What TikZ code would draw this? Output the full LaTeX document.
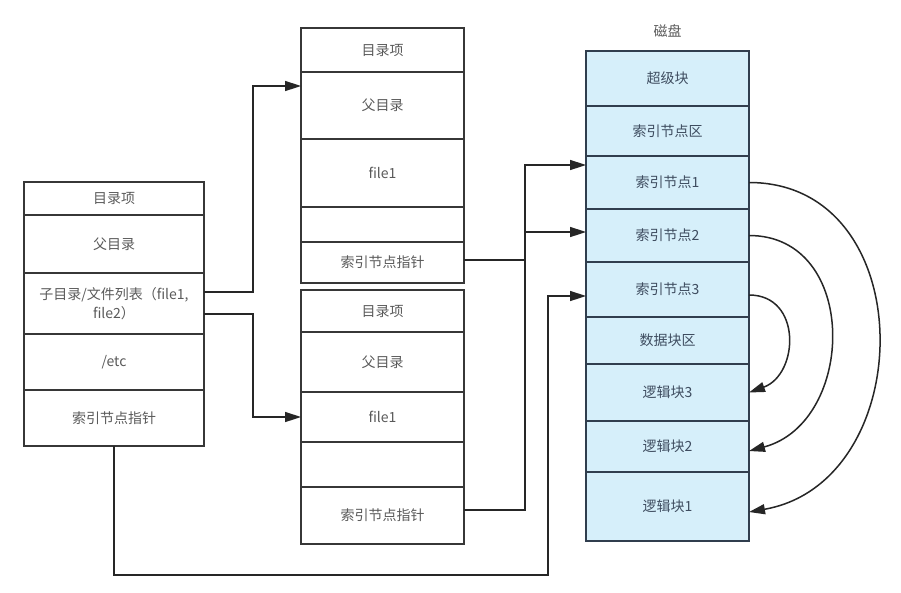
\documentclass[tikz,border=0pt]{standalone}
\usepackage{fontspec}
\setmainfont{Noto Sans CJK SC}
\usetikzlibrary{calc}
\usetikzlibrary{arrows.meta}
\definecolor{diskfill}{RGB}{214,239,250}
\definecolor{diskline}{RGB}{48,62,78}
\definecolor{boxline}{RGB}{55,55,55}
\definecolor{boxtext}{RGB}{90,90,90}
\definecolor{disktext}{RGB}{62,76,95}
\def\LeftX{114}
\def\MidX{382.5}
\def\DiskX{667.5}
\def\LeftW{180pt}
\def\MidW{163pt}
\def\DiskW{163pt}
\def\BusA{253}
\def\BusB{525}
\def\BusC{548}
\def\Floor{575}

\begin{document}
\begin{tikzpicture}[x=1pt,y=-1pt,
  cell/.style={draw=boxline, line width=1.5pt, text=boxtext, align=center,
    inner sep=0pt, outer sep=0pt, anchor=north,
    font=\fontsize{14}{19}\selectfont},
  dcell/.style={cell, draw=diskline, fill=diskfill, text=disktext, minimum width=\DiskW},
  arr/.style={draw=black!85, line width=1.5pt, -{Triangle[length=16pt,width=10pt]}}]
  \path[use as bounding box, fill=white] (0,0) rectangle (901,592);
  % directory entry
  \node[cell, minimum width=\LeftW, minimum height=33pt] (l1) at (\LeftX,182) {目录项};
  \node[cell, minimum width=\LeftW, minimum height=58pt] (l2) at (l1.south) {父目录};
  \node[cell, minimum width=\LeftW, minimum height=61pt] (l3) at (l2.south) {子目录/文件列表（file1,\\file2）};
  \node[cell, minimum width=\LeftW, minimum height=56pt] (l4) at (l3.south) {/etc};
  \node[cell, minimum width=\LeftW, minimum height=56pt] (l5) at (l4.south) {索引节点指针};
  % upper sub entry
  \node[cell, minimum width=\MidW, minimum height=44pt] (t1) at (\MidX,28) {目录项};
  \node[cell, minimum width=\MidW, minimum height=67pt] (t2) at (t1.south) {父目录};
  \node[cell, minimum width=\MidW, minimum height=68pt] (t3) at (t2.south) {file1};
  \node[cell, minimum width=\MidW, minimum height=35pt] (t4) at (t3.south) {};
  \node[cell, minimum width=\MidW, minimum height=41pt] (t5) at (t4.south) {索引节点指针};
  % lower sub entry
  \node[cell, minimum width=\MidW, minimum height=42pt] (b1) at (\MidX,290) {目录项};
  \node[cell, minimum width=\MidW, minimum height=60pt] (b2) at (b1.south) {父目录};
  \node[cell, minimum width=\MidW, minimum height=50pt] (b3) at (b2.south) {file1};
  \node[cell, minimum width=\MidW, minimum height=45pt] (b4) at (b3.south) {};
  \node[cell, minimum width=\MidW, minimum height=57pt] (b5) at (b4.south) {索引节点指针};
  % disk
  \node[dcell, minimum height=55pt] (d1) at (\DiskX,51) {超级块};
  \node[dcell, minimum height=50pt] (d2) at (d1.south) {索引节点区};
  \node[dcell, minimum height=53pt] (d3) at (d2.south) {索引节点1};
  \node[dcell, minimum height=53pt] (d4) at (d3.south) {索引节点2};
  \node[dcell, minimum height=55pt] (d5) at (d4.south) {索引节点3};
  \node[dcell, minimum height=47pt] (d6) at (d5.south) {数据块区};
  \node[dcell, minimum height=57pt] (d7) at (d6.south) {逻辑块3};
  \node[dcell, minimum height=51pt] (d8) at (d7.south) {逻辑块2};
  \node[dcell, minimum height=69pt] (d9) at (d8.south) {逻辑块1};
  \node[text=boxtext, font=\fontsize{14}{16}\selectfont] (disk) at ($(d1.north)+(0,-20)$) {磁盘};
  % buses
  \coordinate (busA) at (\BusA,0);
  \coordinate (busB) at (\BusB,0);
  \coordinate (busC) at (\BusC,0);
  % entry to sub entries
  \draw[arr] (l3.east |- 0,292) -| (busA |- 0,86) -- (t2.west |- 0,86);
  \draw[arr] (l3.east |- 0,314) -| (busA |- b3.west) -- (b3.west);
  % pointers to inodes
  \draw[arr] (t5.east |- 0,260) -| (busB |- 0,165) -- (d3.west |- 0,165);
  \draw[arr] (b5.east |- 0,510) -| (busB |- 0,232) -- (d4.west |- 0,232);
  \draw[arr] (l5.south) |- (busC |- 0,\Floor) |- (d5.west |- 0,296);
  % inodes to blocks
  \draw[arr] (d3.east) to[out=0, in=10, looseness=1.35] (d9.east |- 0,512);
  \draw[arr] (d4.east) to[out=0, in=15, looseness=1.32] (d8.east |- 0,451);
  \draw[arr] (d5.east |- 0,295) to[out=0, in=20, looseness=1.4] (d7.east);
\end{tikzpicture}
\end{document}
